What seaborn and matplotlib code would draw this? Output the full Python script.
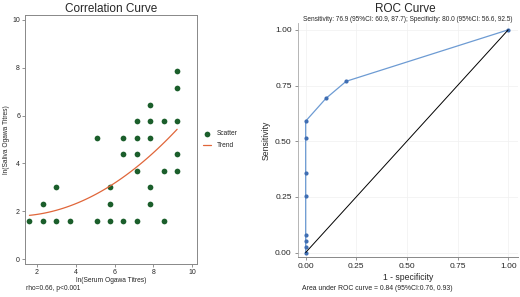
import numpy as np
import pandas as pd
import matplotlib
matplotlib.use("Agg")
import matplotlib.pyplot as plt
import seaborn as sns

# log titres (ln of 5, 10, 20, ... 10240)
serum = [1.61, 2.30, 3.00, 3.69, 5.08, 5.77, 6.46, 7.15, 8.54,
         2.30, 5.77, 7.85,
         3.00, 5.77, 7.85,
         7.15, 8.54, 9.23,
         6.46, 7.15, 9.23,
         5.08, 6.46, 7.15, 7.85,
         7.15, 7.85, 8.54, 9.23,
         7.85, 9.23, 9.23]
saliva = [1.61, 1.61, 1.61, 1.61, 1.61, 1.61, 1.61, 1.61, 1.61,
          2.30, 2.30, 2.30,
          3.00, 3.00, 3.00,
          3.69, 3.69, 3.69,
          4.38, 4.38, 4.38,
          5.08, 5.08, 5.08, 5.08,
          5.77, 5.77, 5.77, 5.77,
          6.46, 7.15, 7.85]

fpr = [0.0, 0.0, 0.0, 0.0, 0.0, 0.0, 0.0, 0.0, 0.1, 0.2, 1.0]
tpr = [0.0, 0.026, 0.051, 0.077, 0.256, 0.359, 0.513, 0.590, 0.692, 0.769, 1.0]

sns.set_style("white")
plt.rcParams["font.family"] = ["Liberation Sans", "DejaVu Sans"]

fig = plt.figure(figsize=(5.2, 2.97), dpi=100)

# --- correlation curve ---
ax1 = fig.add_axes([0.048, 0.111, 0.331, 0.838])
df = pd.DataFrame({"serum": serum, "saliva": saliva})
sns.scatterplot(data=df, x="serum", y="saliva", ax=ax1, color="#1b5e2b",
                s=17, linewidth=0, label="Scatter")
sns.regplot(data=df, x="serum", y="saliva", ax=ax1, order=2, ci=None,
            scatter=False, truncate=True, color="#e0663a",
            line_kws={"linewidth": 0.9}, label="Trend")
ax1.set_xlim(1.38, 10.26)
ax1.set_ylim(-0.21, 10.2)
ax1.set_xticks([2, 4, 6, 8, 10])
ax1.set_yticks([0, 2, 4, 6, 8, 10])
ax1.tick_params(labelsize=5, length=2, width=0.5, color="#666666", pad=1.5,
                left=True, bottom=True)
for sp in ax1.spines.values():
    sp.set_color("#888888")
    sp.set_linewidth(0.7)
ax1.set_xlabel("ln(Serum Ogawa Titres)", fontsize=4.8, labelpad=1)
ax1.set_ylabel("ln(Saliva Ogawa Titres)", fontsize=4.8, labelpad=2)
ax1.set_title("Correlation Curve", fontsize=8.5, pad=2.5)
ax1.legend(loc="center left", bbox_to_anchor=(1.0, 0.5), frameon=False,
           fontsize=4.8, handlelength=1.2, markerscale=1.0, labelspacing=0.7)
fig.text(0.05, 0.022, "rho=0.66, p<0.001", fontsize=4.8)

# --- ROC curve ---
ax2 = fig.add_axes([0.573, 0.134, 0.423, 0.788])
ax2.grid(True, color="#f0f0f0", linewidth=0.5)
sns.lineplot(x=fpr, y=tpr, ax=ax2, color="#6d9bd3", linewidth=0.9,
             marker="o", markersize=3, markerfacecolor="#3f6eb3",
             markeredgewidth=0, sort=False, estimator=None)
sns.lineplot(x=[0, 1], y=[0, 1], ax=ax2, color="black", linewidth=0.7)
ax2.set_xlim(-0.038, 1.048)
ax2.set_ylim(-0.021, 1.03)
ticks = [0, 0.25, 0.5, 0.75, 1.0]
ax2.set_xticks(ticks)
ax2.set_yticks(ticks)
ax2.set_xticklabels([f"{t:.2f}" for t in ticks])
ax2.set_yticklabels([f"{t:.2f}" for t in ticks])
ax2.tick_params(labelsize=6, length=2.5, width=0.5, color="#666666", pad=2,
                left=True, bottom=True)
ax2.spines["top"].set_visible(False)
ax2.spines["right"].set_visible(False)
ax2.spines["left"].set_color("#aaaaaa")
ax2.spines["bottom"].set_color("#888888")
ax2.spines["left"].set_linewidth(0.6)
ax2.spines["bottom"].set_linewidth(0.7)
ax2.set_xlabel("1 - specificity", fontsize=6.2, labelpad=2)
ax2.set_ylabel("Sensitivity", fontsize=6.2, labelpad=3)
fig.text(0.78, 0.958, "ROC Curve", fontsize=8.5, ha="center")
ax2.set_title("Sensitivity: 76.9 (95%CI: 60.9, 87.7); Specificity: 80.0 (95%CI: 56.6, 92.5)",
              fontsize=4.7, pad=1.5)
fig.text(0.58, 0.022, "Area under ROC curve = 0.84 (95%CI:0.76, 0.93)", fontsize=4.95)

fig.savefig("out.png", dpi=100)
